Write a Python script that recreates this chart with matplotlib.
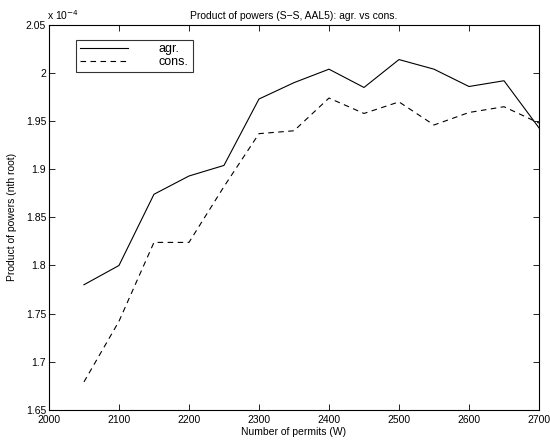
import matplotlib
matplotlib.use("Agg")
import matplotlib.pyplot as plt
from matplotlib.ticker import FuncFormatter, MultipleLocator
import numpy as np

plt.rcParams['font.family'] = ['Liberation Sans', 'DejaVu Sans']

# permits W
permits = [2050, 2100, 2150, 2200, 2250, 2300, 2350, 2400, 2450, 2500, 2550, 2600, 2650, 2700]
# product of powers, in units of 1e-4
agr = [1.780, 1.800, 1.874, 1.893, 1.904, 1.973, 1.990, 2.004, 1.985, 2.014, 2.004, 1.986, 1.992, 1.943]
cons = [1.679, 1.742, 1.824, 1.824, 1.882, 1.937, 1.940, 1.974, 1.958, 1.970, 1.946, 1.959, 1.965, 1.948]
scale = 1e-4

fig = plt.figure(figsize=(5.5, 4.45), dpi=100)
ax = fig.add_axes([0.089, 0.079, 0.891, 0.865])

ax.plot(permits, np.array(agr) * scale, color='black', linewidth=0.8, label='agr.')
ax.plot(permits, np.array(cons) * scale, color='black', linewidth=0.8, linestyle=(0, (5, 4)), label='cons.')

ax.set_xlim(2000, 2700)
ax.set_ylim(1.65e-4, 2.05e-4)
ax.xaxis.set_major_locator(MultipleLocator(100))
ax.yaxis.set_major_locator(MultipleLocator(0.05e-4))
ax.yaxis.set_major_formatter(FuncFormatter(lambda v, p: '%g' % round(v / scale, 4)))
ax.tick_params(direction='in', top=True, right=True, labelsize=7.5, length=4, width=0.6, pad=2)
ax.tick_params(axis='x', pad=4)
for s in ax.spines.values():
    s.set_linewidth(0.8)

ax.text(-0.003, 1.008, r'x 10$^{-4}$', transform=ax.transAxes, fontsize=7.5, ha='left', va='bottom')
ax.set_title('Product of powers (S\u2212S, AAL5): agr. vs cons.', fontsize=7.5, pad=4)
ax.set_xlabel('Number of permits (W)', fontsize=7.5, labelpad=1)
ax.set_ylabel('Product of powers (nth root)', fontsize=7.5, labelpad=6)

leg = ax.legend(loc='upper left', bbox_to_anchor=(0.056, 0.962), fontsize=9, frameon=True,
                fancybox=False, edgecolor='black', handlelength=3.8, handletextpad=2.5,
                borderpad=0.3, labelspacing=0.05, borderaxespad=0)
leg.get_frame().set_linewidth(0.8)

fig.savefig('out.png', dpi=100)
